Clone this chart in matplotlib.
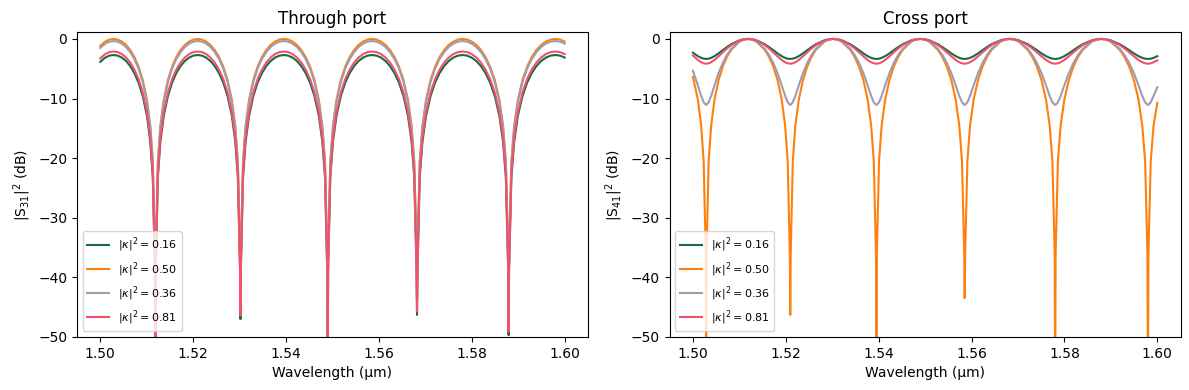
import matplotlib
matplotlib.use("Agg")
import matplotlib.pyplot as plt

# wavelength samples (um) for the through-port curves
wl_through = [
    1.50000, 1.50107, 1.50196, 1.50286, 1.50375, 1.50465, 1.50554, 1.50644, 1.50733,
    1.50823, 1.50914, 1.51005, 1.51077, 1.51131, 1.51177, 1.51186, 1.51195, 1.51240, 1.51294, 1.51367, 1.51457, 1.51548,
    1.51638, 1.51730, 1.51822, 1.51913, 1.52005, 1.52096, 1.52188, 1.52280, 1.52371, 1.52463, 1.52555,
    1.52647, 1.52740, 1.52833, 1.52907, 1.52963, 1.53009, 1.53018, 1.53027, 1.53074, 1.53129, 1.53204, 1.53296, 1.53389,
    1.53482, 1.53576, 1.53670, 1.53763, 1.53857, 1.53951, 1.54045, 1.54139, 1.54233, 1.54327, 1.54421,
    1.54516, 1.54611, 1.54706, 1.54782, 1.54839, 1.54886, 1.54896, 1.54905, 1.54953, 1.55010, 1.55086, 1.55181, 1.55276,
    1.55371, 1.55467, 1.55563, 1.55659, 1.55756, 1.55852, 1.55948, 1.56044, 1.56141, 1.56237, 1.56333,
    1.56430, 1.56528, 1.56625, 1.56703, 1.56761, 1.56810, 1.56820, 1.56830, 1.56878, 1.56937, 1.57015, 1.57112, 1.57210,
    1.57307, 1.57406, 1.57504, 1.57603, 1.57701, 1.57800, 1.57899, 1.57997, 1.58096, 1.58195, 1.58293,
    1.58393, 1.58493, 1.58593, 1.58673, 1.58733, 1.58783, 1.58792, 1.58802, 1.58852, 1.58912, 1.58992, 1.59092, 1.59192,
    1.59292, 1.59393, 1.59494, 1.59595, 1.59696, 1.59797, 1.59899, 1.60000,
]

# |S31|^2 in dB
s31_k016 = [
    -3.84, -3.13, -2.80, -2.70, -2.80, -3.13, -3.70, -4.54, -5.71,
    -7.31, -9.55, -12.90, -17.24, -23.22, -38.77, -62.7, -38.77, -23.22, -17.24, -12.90, -9.55, -7.31,
    -5.71, -4.54, -3.70, -3.13, -2.80, -2.70, -2.80, -3.13, -3.70, -4.54, -5.71,
    -7.31, -9.55, -12.90, -17.24, -23.22, -38.77, -47.0, -38.77, -23.22, -17.24, -12.90, -9.55, -7.31,
    -5.71, -4.54, -3.70, -3.13, -2.80, -2.70, -2.80, -3.13, -3.70, -4.54, -5.71,
    -7.31, -9.55, -12.90, -17.24, -23.22, -38.77, -62.7, -38.77, -23.22, -17.24, -12.90, -9.55, -7.31,
    -5.71, -4.54, -3.70, -3.13, -2.80, -2.70, -2.80, -3.13, -3.70, -4.54, -5.71,
    -7.31, -9.55, -12.90, -17.24, -23.22, -38.77, -46.3, -38.77, -23.22, -17.24, -12.90, -9.55, -7.31,
    -5.71, -4.54, -3.70, -3.13, -2.80, -2.70, -2.80, -3.13, -3.70, -4.54, -5.71,
    -7.31, -9.55, -12.90, -17.24, -23.22, -38.77, -49.7, -38.77, -23.22, -17.24, -12.90, -9.55, -7.31,
    -5.71, -4.54, -3.70, -3.13, -2.80, -2.70, -2.80, -3.13,
]
s31_k050 = [
    -1.15, -0.44, -0.11, 0.00, -0.11, -0.44, -1.00, -1.84, -3.01,
    -4.62, -6.86, -10.20, -14.55, -20.53, -36.08, -60.0, -36.08, -20.53, -14.55, -10.20, -6.86, -4.62,
    -3.01, -1.84, -1.00, -0.44, -0.11, 0.00, -0.11, -0.44, -1.00, -1.84, -3.01,
    -4.62, -6.86, -10.20, -14.55, -20.53, -36.08, -44.3, -36.08, -20.53, -14.55, -10.20, -6.86, -4.62,
    -3.01, -1.84, -1.00, -0.44, -0.11, 0.00, -0.11, -0.44, -1.00, -1.84, -3.01,
    -4.62, -6.86, -10.20, -14.55, -20.53, -36.08, -60.0, -36.08, -20.53, -14.55, -10.20, -6.86, -4.62,
    -3.01, -1.84, -1.00, -0.44, -0.11, 0.00, -0.11, -0.44, -1.00, -1.84, -3.01,
    -4.62, -6.86, -10.20, -14.55, -20.53, -36.08, -43.6, -36.08, -20.53, -14.55, -10.20, -6.86, -4.62,
    -3.01, -1.84, -1.00, -0.44, -0.11, 0.00, -0.11, -0.44, -1.00, -1.84, -3.01,
    -4.62, -6.86, -10.20, -14.55, -20.53, -36.08, -47.0, -36.08, -20.53, -14.55, -10.20, -6.86, -4.62,
    -3.01, -1.84, -1.00, -0.44, -0.11, 0.00, -0.11, -0.44,
]
s31_k036 = [
    -1.50, -0.79, -0.46, -0.35, -0.46, -0.79, -1.35, -2.20, -3.36,
    -4.97, -7.21, -10.55, -14.90, -20.88, -36.43, -60.4, -36.43, -20.88, -14.90, -10.55, -7.21, -4.97,
    -3.36, -2.20, -1.35, -0.79, -0.46, -0.35, -0.46, -0.79, -1.35, -2.20, -3.36,
    -4.97, -7.21, -10.55, -14.90, -20.88, -36.43, -44.7, -36.43, -20.88, -14.90, -10.55, -7.21, -4.97,
    -3.36, -2.20, -1.35, -0.79, -0.46, -0.35, -0.46, -0.79, -1.35, -2.20, -3.36,
    -4.97, -7.21, -10.55, -14.90, -20.88, -36.43, -60.4, -36.43, -20.88, -14.90, -10.55, -7.21, -4.97,
    -3.36, -2.20, -1.35, -0.79, -0.46, -0.35, -0.46, -0.79, -1.35, -2.20, -3.36,
    -4.97, -7.21, -10.55, -14.90, -20.88, -36.43, -44.0, -36.43, -20.88, -14.90, -10.55, -7.21, -4.97,
    -3.36, -2.20, -1.35, -0.79, -0.46, -0.35, -0.46, -0.79, -1.35, -2.20, -3.36,
    -4.97, -7.21, -10.55, -14.90, -20.88, -36.43, -47.4, -36.43, -20.88, -14.90, -10.55, -7.21, -4.97,
    -3.36, -2.20, -1.35, -0.79, -0.46, -0.35, -0.46, -0.79,
]
s31_k081 = [
    -3.25, -2.54, -2.21, -2.11, -2.21, -2.54, -3.11, -3.95, -5.12,
    -6.72, -8.97, -12.31, -16.65, -22.63, -38.18, -62.1, -38.18, -22.63, -16.65, -12.31, -8.97, -6.72,
    -5.12, -3.95, -3.11, -2.54, -2.21, -2.11, -2.21, -2.54, -3.11, -3.95, -5.12,
    -6.72, -8.97, -12.31, -16.65, -22.63, -38.18, -46.4, -38.18, -22.63, -16.65, -12.31, -8.97, -6.72,
    -5.12, -3.95, -3.11, -2.54, -2.21, -2.11, -2.21, -2.54, -3.11, -3.95, -5.12,
    -6.72, -8.97, -12.31, -16.65, -22.63, -38.18, -62.1, -38.18, -22.63, -16.65, -12.31, -8.97, -6.72,
    -5.12, -3.95, -3.11, -2.54, -2.21, -2.11, -2.21, -2.54, -3.11, -3.95, -5.12,
    -6.72, -8.97, -12.31, -16.65, -22.63, -38.18, -45.7, -38.18, -22.63, -16.65, -12.31, -8.97, -6.72,
    -5.12, -3.95, -3.11, -2.54, -2.21, -2.11, -2.21, -2.54, -3.11, -3.95, -5.12,
    -6.72, -8.97, -12.31, -16.65, -22.63, -38.18, -49.1, -38.18, -22.63, -16.65, -12.31, -8.97, -6.72,
    -5.12, -3.95, -3.11, -2.54, -2.21, -2.11, -2.21, -2.54,
]

# wavelength samples (um) for the cross-port curves
wl_cross = [
    1.50000, 1.50107, 1.50178, 1.50232, 1.50277, 1.50286, 1.50295, 1.50339, 1.50393, 1.50465, 1.50554, 1.50644,
    1.50733, 1.50823, 1.51005, 1.51095, 1.51186, 1.51276, 1.51367, 1.51548, 1.51638,
    1.51730, 1.51822, 1.51913, 1.51986, 1.52041, 1.52087, 1.52096, 1.52106, 1.52151, 1.52206, 1.52280, 1.52371, 1.52463,
    1.52555, 1.52647, 1.52833, 1.52926, 1.53018, 1.53111, 1.53204, 1.53389, 1.53482,
    1.53576, 1.53670, 1.53763, 1.53839, 1.53895, 1.53942, 1.53951, 1.53961, 1.54008, 1.54064, 1.54139, 1.54233, 1.54327,
    1.54421, 1.54516, 1.54706, 1.54801, 1.54896, 1.54991, 1.55086, 1.55276, 1.55371,
    1.55467, 1.55563, 1.55659, 1.55736, 1.55794, 1.55842, 1.55852, 1.55862, 1.55910, 1.55967, 1.56044, 1.56141, 1.56237,
    1.56333, 1.56430, 1.56625, 1.56722, 1.56820, 1.56917, 1.57015, 1.57210, 1.57307,
    1.57406, 1.57504, 1.57603, 1.57682, 1.57741, 1.57790, 1.57800, 1.57810, 1.57859, 1.57918, 1.57997, 1.58096, 1.58195,
    1.58293, 1.58393, 1.58593, 1.58693, 1.58792, 1.58892, 1.58992, 1.59192, 1.59292,
    1.59393, 1.59494, 1.59595, 1.59676, 1.59737, 1.59787, 1.59797, 1.59808, 1.59858, 1.59919, 1.60000,
]

# |S41|^2 in dB
s41_k016 = [
    -2.31, -2.89, -3.18, -3.31, -3.35, -3.35, -3.35, -3.31, -3.18, -2.89, -2.42, -1.88,
    -1.36, -0.89, -0.23, -0.06, 0.00, -0.06, -0.23, -0.89, -1.36,
    -1.88, -2.42, -2.89, -3.18, -3.31, -3.35, -3.35, -3.35, -3.31, -3.18, -2.89, -2.42, -1.88,
    -1.36, -0.89, -0.23, -0.06, 0.00, -0.06, -0.23, -0.89, -1.36,
    -1.88, -2.42, -2.89, -3.18, -3.31, -3.35, -3.35, -3.35, -3.31, -3.18, -2.89, -2.42, -1.88,
    -1.36, -0.89, -0.23, -0.06, 0.00, -0.06, -0.23, -0.89, -1.36,
    -1.88, -2.42, -2.89, -3.18, -3.31, -3.35, -3.35, -3.35, -3.31, -3.18, -2.89, -2.42, -1.88,
    -1.36, -0.89, -0.23, -0.06, 0.00, -0.06, -0.23, -0.89, -1.36,
    -1.88, -2.42, -2.89, -3.18, -3.31, -3.35, -3.35, -3.35, -3.31, -3.18, -2.89, -2.42, -1.88,
    -1.36, -0.89, -0.23, -0.06, 0.00, -0.06, -0.23, -0.89, -1.36,
    -1.88, -2.42, -2.89, -3.18, -3.31, -3.35, -3.35, -3.35, -3.31, -3.18, -2.89,
]
s41_k050 = [
    -6.34, -10.20, -14.55, -20.53, -36.08, -60.0, -36.08, -20.53, -14.55, -10.20, -6.86, -4.62,
    -3.01, -1.84, -0.44, -0.11, 0.00, -0.11, -0.44, -1.84, -3.01,
    -4.62, -6.86, -10.20, -14.55, -20.53, -36.08, -46.3, -36.08, -20.53, -14.55, -10.20, -6.86, -4.62,
    -3.01, -1.84, -0.44, -0.11, 0.00, -0.11, -0.44, -1.84, -3.01,
    -4.62, -6.86, -10.20, -14.55, -20.53, -36.08, -60.0, -36.08, -20.53, -14.55, -10.20, -6.86, -4.62,
    -3.01, -1.84, -0.44, -0.11, 0.00, -0.11, -0.44, -1.84, -3.01,
    -4.62, -6.86, -10.20, -14.55, -20.53, -36.08, -43.5, -36.08, -20.53, -14.55, -10.20, -6.86, -4.62,
    -3.01, -1.84, -0.44, -0.11, 0.00, -0.11, -0.44, -1.84, -3.01,
    -4.62, -6.86, -10.20, -14.55, -20.53, -36.08, -60.0, -36.08, -20.53, -14.55, -10.20, -6.86, -4.62,
    -3.01, -1.84, -0.44, -0.11, 0.00, -0.11, -0.44, -1.84, -3.01,
    -4.62, -6.86, -10.20, -14.55, -20.53, -36.08, -60.0, -36.08, -20.53, -14.55, -10.70,
]
s41_k036 = [
    -5.34, -7.79, -9.56, -10.63, -11.04, -11.06, -11.04, -10.63, -9.56, -7.79, -5.71, -4.01,
    -2.68, -1.66, -0.40, -0.10, 0.00, -0.10, -0.40, -1.66, -2.68,
    -4.01, -5.71, -7.79, -9.56, -10.63, -11.04, -11.06, -11.04, -10.63, -9.56, -7.79, -5.71, -4.01,
    -2.68, -1.66, -0.40, -0.10, 0.00, -0.10, -0.40, -1.66, -2.68,
    -4.01, -5.71, -7.79, -9.56, -10.63, -11.04, -11.06, -11.04, -10.63, -9.56, -7.79, -5.71, -4.01,
    -2.68, -1.66, -0.40, -0.10, 0.00, -0.10, -0.40, -1.66, -2.68,
    -4.01, -5.71, -7.79, -9.56, -10.63, -11.04, -11.06, -11.04, -10.63, -9.56, -7.79, -5.71, -4.01,
    -2.68, -1.66, -0.40, -0.10, 0.00, -0.10, -0.40, -1.66, -2.68,
    -4.01, -5.71, -7.79, -9.56, -10.63, -11.04, -11.06, -11.04, -10.63, -9.56, -7.79, -5.71, -4.01,
    -2.68, -1.66, -0.40, -0.10, 0.00, -0.10, -0.40, -1.66, -2.68,
    -4.01, -5.71, -7.79, -9.56, -10.63, -11.04, -11.06, -11.04, -10.63, -9.56, -8.10,
]
s41_k081 = [
    -2.78, -3.53, -3.91, -4.09, -4.15, -4.15, -4.15, -4.09, -3.91, -3.53, -2.91, -2.24,
    -1.60, -1.04, -0.26, -0.07, 0.00, -0.07, -0.26, -1.04, -1.60,
    -2.24, -2.91, -3.53, -3.91, -4.09, -4.15, -4.15, -4.15, -4.09, -3.91, -3.53, -2.91, -2.24,
    -1.60, -1.04, -0.26, -0.07, 0.00, -0.07, -0.26, -1.04, -1.60,
    -2.24, -2.91, -3.53, -3.91, -4.09, -4.15, -4.15, -4.15, -4.09, -3.91, -3.53, -2.91, -2.24,
    -1.60, -1.04, -0.26, -0.07, 0.00, -0.07, -0.26, -1.04, -1.60,
    -2.24, -2.91, -3.53, -3.91, -4.09, -4.15, -4.15, -4.15, -4.09, -3.91, -3.53, -2.91, -2.24,
    -1.60, -1.04, -0.26, -0.07, 0.00, -0.07, -0.26, -1.04, -1.60,
    -2.24, -2.91, -3.53, -3.91, -4.09, -4.15, -4.15, -4.15, -4.09, -3.91, -3.53, -2.91, -2.24,
    -1.60, -1.04, -0.26, -0.07, 0.00, -0.07, -0.26, -1.04, -1.60,
    -2.24, -2.91, -3.53, -3.91, -4.09, -4.15, -4.15, -4.15, -4.09, -3.91, -3.60,
]

labels = [r"$|\kappa|^2 = 0.16$", r"$|\kappa|^2 = 0.50$",
          r"$|\kappa|^2 = 0.36$", r"$|\kappa|^2 = 0.81$"]
colors = ["#1b6b3b", "#ff7f0e", "#9c9daf", "#f2506e"]


def main():
    fig, (ax1, ax2) = plt.subplots(1, 2, figsize=(11.89, 3.9), dpi=100)
    fig.subplots_adjust(left=0.0648, right=0.9929, top=0.917, bottom=0.136, wspace=0.16)

    for ys, lab, c in zip([s31_k016, s31_k050, s31_k036, s31_k081], labels, colors):
        ax1.plot(wl_through, ys, color=c, label=lab)
    for ys, lab, c in zip([s41_k016, s41_k050, s41_k036, s41_k081], labels, colors):
        ax2.plot(wl_cross, ys, color=c, label=lab)

    ax1.set_title("Through port")
    ax1.set_ylabel(r"|S$_{31}$|$^2$ (dB)")
    ax2.set_title("Cross port")
    ax2.set_ylabel(r"|S$_{41}$|$^2$ (dB)")
    for ax in (ax1, ax2):
        ax.set_xlabel("Wavelength (µm)")
        ax.set_ylim(-50, 1.1)
        ax.set_xticks([1.50, 1.52, 1.54, 1.56, 1.58, 1.60])
        ax.legend(loc="lower left", fontsize=8)

    fig.savefig("out.png", dpi=100)


if __name__ == "__main__":
    main()
